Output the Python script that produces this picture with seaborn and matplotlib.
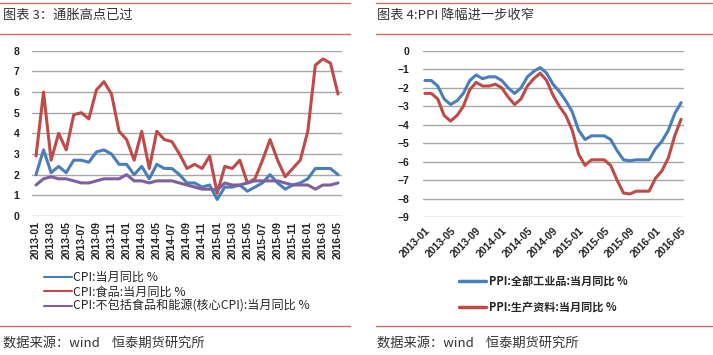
import pandas as pd
import matplotlib.pyplot as plt
import seaborn as sns

# tema
sns.set_style("white")
plt.rcParams['font.family'] = ['Noto Sans CJK SC', 'DejaVu Sans']

# meses 2013-01 .. 2016-05
months = pd.date_range('2013-01', '2016-05', freq='MS').strftime('%Y-%m').tolist()

# CPI (%)
cpi = [2.0, 3.2, 2.1, 2.4, 2.1, 2.7, 2.7, 2.6, 3.1, 3.2, 3.0, 2.5,
       2.5, 2.0, 2.4, 1.8, 2.5, 2.3, 2.3, 2.0, 1.6, 1.6, 1.4, 1.5,
       0.8, 1.4, 1.4, 1.5, 1.2, 1.4, 1.6, 2.0, 1.6, 1.3, 1.5, 1.6,
       1.8, 2.3, 2.3, 2.3, 2.0]
cpi_food = [2.9, 6.0, 2.7, 4.0, 3.2, 4.9, 5.0, 4.7, 6.1, 6.5, 5.9, 4.1,
            3.7, 2.7, 4.1, 2.3, 4.1, 3.7, 3.6, 3.0, 2.3, 2.5, 2.3, 2.9,
            1.1, 2.4, 2.3, 2.7, 1.6, 1.8, 2.7, 3.7, 2.7, 1.9, 2.3, 2.7,
            4.1, 7.3, 7.6, 7.4, 5.9]
cpi_core = [1.5, 1.8, 1.9, 1.8, 1.8, 1.7, 1.6, 1.6, 1.7, 1.8, 1.8, 1.8,
            2.0, 1.7, 1.7, 1.6, 1.7, 1.7, 1.7, 1.6, 1.5, 1.4, 1.3, 1.3,
            1.25, 1.6, 1.5, 1.5, 1.6, 1.7, 1.7, 1.7, 1.7, 1.6, 1.5, 1.5,
            1.5, 1.3, 1.5, 1.5, 1.6]

# PPI (%)
ppi_all = [-1.6, -1.6, -1.9, -2.6, -2.9, -2.7, -2.3, -1.6, -1.3, -1.5, -1.4, -1.4,
           -1.6, -2.0, -2.3, -2.0, -1.4, -1.1, -0.9, -1.2, -1.8, -2.2, -2.7, -3.3,
           -4.3, -4.8, -4.6, -4.6, -4.6, -4.8, -5.4, -5.9, -5.95, -5.9, -5.9, -5.9,
           -5.3, -4.9, -4.3, -3.4, -2.8]
ppi_prod = [-2.3, -2.3, -2.6, -3.5, -3.8, -3.5, -3.0, -2.1, -1.7, -1.9, -1.9, -1.8,
            -2.0, -2.5, -2.9, -2.6, -1.9, -1.5, -1.2, -1.6, -2.4, -3.0, -3.5, -4.3,
            -5.6, -6.2, -5.9, -5.9, -5.9, -6.2, -7.0, -7.7, -7.75, -7.6, -7.6, -7.6,
            -6.9, -6.5, -5.8, -4.6, -3.7]

cpi_labels = ['CPI:当月同比 %', 'CPI:食品:当月同比 %', 'CPI:不包括食品和能源(核心CPI):当月同比 %']
ppi_labels = ['PPI:全部工业品:当月同比 %', 'PPI:生产资料:当月同比 %']

blue = '#4A7EBB'
red = '#BE4B48'
purple = '#7D60A0'
rule_red = '#E06666'
grid_grey = '#A6A6A6'
txt = '#333333'

W, H = 713, 355
fig = plt.figure(figsize=(W / 100, H / 100), dpi=100)


def box(l, t, r, b):
    return [l / W, 1 - b / H, (r - l) / W, (b - t) / H]


ax1 = fig.add_axes(box(32, 50.7, 342, 216))
ax2 = fig.add_axes(box(423, 51, 684, 217))

x = list(range(len(months)))

# grafico 3: CPI
for vals, c, lab in zip([cpi, cpi_food, cpi_core], [blue, red, purple], cpi_labels):
    sns.lineplot(x=x, y=vals, ax=ax1, color=c, lw=2.2, label=lab)
ax1.set_ylim(0, 8)
ax1.set_yticks(range(0, 9))
ax1.set_xlim(-0.53, 40.53)
ax1.set_xticks(x[::2])
ax1.set_xticklabels(months[::2], rotation=90, fontfamily='Liberation Sans',
                    fontweight='bold', fontsize=7.5, color='#222')
ax1.tick_params(axis='y', pad=9)
ax1.tick_params(axis='x', pad=4)

# grafico 4: PPI
for vals, c, lab in zip([ppi_all, ppi_prod], [blue, red], ppi_labels):
    sns.lineplot(x=x, y=vals, ax=ax2, color=c, lw=2.2, label=lab)
ax2.set_ylim(-9, 0)
ax2.set_yticks(range(-9, 1))
ax2.set_xlim(-0.3, 40.45)
ax2.set_xticks(x[::4])
ax2.set_xticklabels(months[::4], rotation=45, ha='right', va='top',
                    rotation_mode='anchor', fontfamily='Liberation Sans',
                    fontweight='bold', fontsize=7.5, color='#222')
ax2.tick_params(axis='y', pad=10)
ax2.tick_params(axis='x', pad=6)

for ax in (ax1, ax2):
    ax.grid(axis='y', color=grid_grey, lw=1)
    ax.set_axisbelow(True)
    for s in ax.spines.values():
        s.set_visible(False)
    ax.tick_params(length=0)
    for t in ax.get_yticklabels():
        t.set_fontfamily('Liberation Sans')
        t.set_fontweight('bold')
        t.set_fontsize(7.5)
        t.set_color('#222')

# legendas
ax1.legend(loc='upper left', bbox_to_anchor=(44 / W, 1 - 271 / H),
           bbox_transform=fig.transFigure, frameon=False, fontsize=8.7,
           handlelength=2.3, handletextpad=0.1, labelspacing=0.12,
           borderaxespad=0, borderpad=0)
for h in ax1.get_legend().get_lines():
    h.set_linewidth(1.5)
leg2 = ax2.legend(loc='upper left', bbox_to_anchor=(459 / W, 1 - 275 / H),
                  bbox_transform=fig.transFigure, frameon=False,
                  prop={'size': 8, 'weight': 'bold'},
                  handlelength=2.4, handletextpad=0.3, labelspacing=1.15,
                  borderaxespad=0, borderpad=0)
for h in leg2.get_lines():
    h.set_linewidth(2.5)

# titulos, fontes e linhas vermelhas
for x0, x1 in [(0, 350), (376, 713)]:
    for yy in (3, 34, 326):
        fig.add_artist(plt.Line2D([x0 / W, x1 / W], [1 - yy / H] * 2,
                                  color=rule_red, lw=1, transform=fig.transFigure))

fig.text(3 / W, 1 - 15 / H, '图表 3：通胀高点已过', va='center', fontsize=9.5, color=txt)
fig.text(377 / W, 1 - 15 / H, '图表 4:PPI 降幅进一步收窄', va='center', fontsize=9.5, color=txt)
fig.text(3 / W, 1 - 343 / H, '数据来源：wind    恒泰期货研究所', va='center', fontsize=9.5, color=txt)
fig.text(377 / W, 1 - 343 / H, '数据来源：wind    恒泰期货研究所', va='center', fontsize=9.5, color=txt)

fig.savefig('out.png', dpi=100)
